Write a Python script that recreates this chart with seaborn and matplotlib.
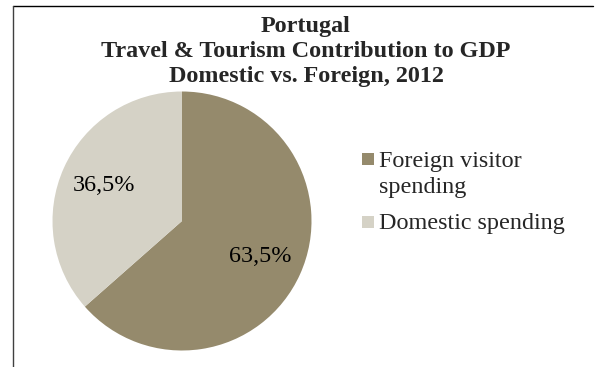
import matplotlib
matplotlib.use("Agg")
import matplotlib.pyplot as plt
import matplotlib.lines as mlines
import matplotlib.patches as mpatches
import numpy as np
import seaborn as sns

# Travel & Tourism contribution to GDP, Portugal 2012
categories = ["Foreign visitor\nspending", "Domestic spending"]
shares = [63.5, 36.5]
value_labels = ["63,5%", "36,5%"]
title_lines = ["Portugal", "Travel & Tourism Contribution to GDP", "Domestic vs. Foreign, 2012"]

sns.set_style("white")
plt.rcParams["font.family"] = ["Liberation Serif", "DejaVu Serif"]
colors = sns.color_palette(["#958a6c", "#d5d2c6"])
FS = 17.4

W, H = 598, 367
fig = plt.figure(figsize=(W / 100, H / 100), dpi=100)


def fx(px):
    return px / W


def fy(py):
    return 1 - py / H


# chart frame (top and left edges visible)
fig.add_artist(mlines.Line2D([fx(13), fx(593)], [fy(6), fy(6)], color="#000000", lw=1.0))
fig.add_artist(mlines.Line2D([fx(13), fx(13)], [0, fy(6)], color="#404040", lw=1.0))

# pie
cx, cy, r = 182, 221, 129.5
ax = fig.add_axes([fx(cx - r), fy(cy + r), 2 * r / W, 2 * r / H])
wedges, _ = ax.pie(shares, colors=colors, startangle=90, counterclock=False,
                   radius=1.0, wedgeprops=dict(linewidth=0))
ax.set_xlim(-1, 1)
ax.set_ylim(-1, 1)
ax.set_aspect("equal")
ax.axis("off")

for w, lab in zip(wedges, value_labels):
    mid = np.deg2rad((w.theta1 + w.theta2) / 2)
    ax.text(0.665 * np.cos(mid), 0.665 * np.sin(mid), lab, ha="center", va="center",
            fontsize=FS, color="#000000")

# title
for line, base in zip(title_lines, [32, 57, 82]):
    fig.text(fx(306), fy(base), line, ha="center", va="baseline",
             fontsize=FS, fontweight="bold")

# legend
entries = [
    (colors[0], categories[0].split("\n"), 153, [167, 193]),
    (colors[1], categories[1].split("\n"), 216, [229]),
]
for col, lines, top, bases in entries:
    fig.add_artist(mpatches.Rectangle((fx(362), fy(top + 12)), 12 / W, 12 / H,
                                      facecolor=col, edgecolor="none"))
    for txt, b in zip(lines, bases):
        fig.text(fx(379), fy(b), txt, ha="left", va="baseline", fontsize=FS)

fig.savefig("out.png", dpi=100)
